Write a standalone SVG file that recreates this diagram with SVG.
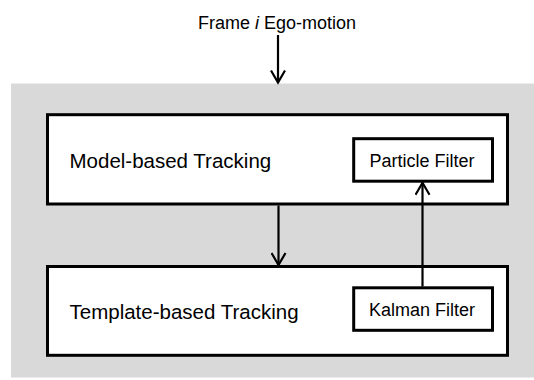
<svg xmlns="http://www.w3.org/2000/svg" width="534" height="380" viewBox="0 0 534 380">
<style>
.box{fill:#ffffff;stroke:#000000;stroke-width:3}
.t{font-family:"Liberation Sans",Arial,sans-serif;fill:#000000}
.big{font-size:20.5px}
.small{font-size:18px}
.conn{stroke:#000000;stroke-width:2.2;fill:none}
</style>
<defs>
<marker id="ah" viewBox="0 0 16 16" refX="14" refY="8" markerWidth="16" markerHeight="16" markerUnits="userSpaceOnUse" orient="auto">
<path d="M2,1 L14,8 L2,15" fill="none" stroke="#000000" stroke-width="2.2"/>
</marker>
</defs>
<rect id="background" x="11" y="83.5" width="523" height="294" fill="#d9d9d9"/>
<text class="t small" x="277" y="28.5" text-anchor="middle">Frame <tspan font-style="italic">i</tspan> Ego-motion</text>
<g id="model">
<rect class="box" x="47.5" y="114.7" width="460" height="89.3"/>
<text class="t big" x="69.5" y="167.5">Model-based Tracking</text>
</g>
<g id="particle">
<rect class="box" x="353.7" y="138.7" width="138.8" height="42.5"/>
<text class="t small" x="422" y="166.8" text-anchor="middle">Particle Filter</text>
</g>
<g id="template">
<rect class="box" x="47.5" y="266.5" width="460" height="88.8"/>
<text class="t big" x="69.5" y="319">Template-based Tracking</text>
</g>
<g id="kalman">
<rect class="box" x="353.7" y="287.8" width="138.8" height="42.5"/>
<text class="t small" x="422" y="316" text-anchor="middle">Kalman Filter</text>
</g>
<g id="connectors">
<line class="conn" x1="278" y1="35" x2="278" y2="82.5" marker-end="url(#ah)"/>
<line class="conn" x1="278.5" y1="205.5" x2="278.5" y2="265" marker-end="url(#ah)"/>
<line class="conn" x1="422.5" y1="286.5" x2="422.5" y2="182.8" marker-end="url(#ah)"/>
</g>
</svg>
